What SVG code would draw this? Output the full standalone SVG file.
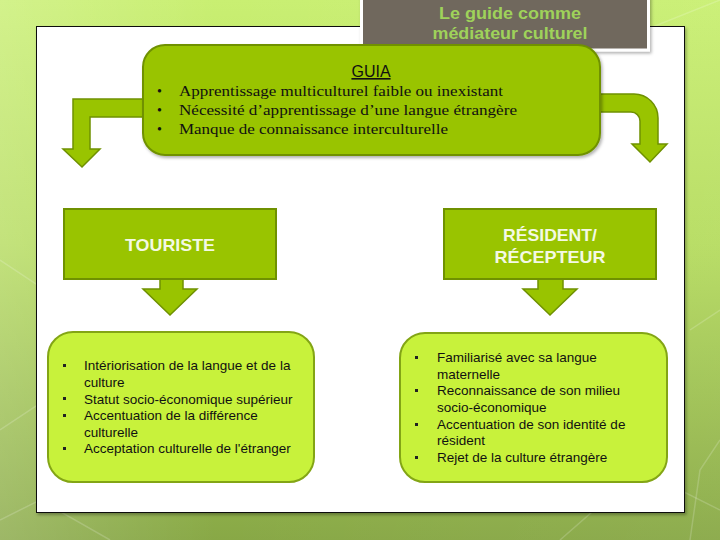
<svg xmlns="http://www.w3.org/2000/svg" width="720" height="540" viewBox="0 0 720 540">
<defs>
<linearGradient id="bg" x1="0" y1="0" x2="0" y2="1">
<stop offset="0" stop-color="#c9ef72"/>
<stop offset="0.45" stop-color="#b6dc60"/>
<stop offset="1" stop-color="#88a846"/>
</linearGradient>
<linearGradient id="bgside" x1="0" y1="0" x2="1" y2="0">
<stop offset="0" stop-color="#ffffff" stop-opacity="0.18"/>
<stop offset="0.3" stop-color="#ffffff" stop-opacity="0"/>
<stop offset="1" stop-color="#ffffff" stop-opacity="0.05"/>
</linearGradient>
<filter id="sh" x="-5%" y="-5%" width="115%" height="120%">
<feDropShadow dx="1.5" dy="2" stdDeviation="1.5" flood-color="#000" flood-opacity="0.3"/>
</filter>
</defs>
<style>
.green{fill:#99c400;stroke:#6f9100;stroke-width:2}
.lime{fill:#c8f23b;stroke:#83a515;stroke-width:2}
.arrow{fill:#99c400;stroke:#6f9100;stroke-width:1.5;stroke-linejoin:miter}
.head{font-family:"Liberation Sans",Arial,sans-serif;font-weight:bold;font-size:17px;fill:#f4f9e4;text-anchor:middle}
.serif{font-family:"Liberation Serif","Times New Roman",serif;font-size:14px;fill:#111}
.item{font-family:"Liberation Sans",Arial,sans-serif;font-size:13.5px;fill:#111}
.title{font-family:"Liberation Sans",Arial,sans-serif;font-weight:bold;font-size:17px;fill:#9fd25a;text-anchor:middle}
</style>
<rect x="0" y="0" width="720" height="540" fill="url(#bg)"/>
<rect x="0" y="0" width="720" height="540" fill="url(#bgside)"/>
<g stroke="#ffffff" stroke-opacity="0.18" stroke-width="1.5" fill="none">
<path d="M0 430 L60 390 L60 300 L0 260"/>
<path d="M0 520 L40 500 L110 540"/>
<path d="M560 540 L640 470 L720 510"/>
<path d="M690 540 L700 470 L720 440"/>
<path d="M620 40 L720 0"/>
<path d="M690 330 L720 310"/>
</g>
<rect x="36.5" y="26.5" width="648" height="486" fill="#ffffff" stroke="#111" stroke-width="1" filter="url(#sh)"/>
<g id="title">
<rect x="361.5" y="-3" width="287" height="53" fill="#6f675d" stroke="#ffffff" stroke-width="3" filter="url(#sh)"/>
<text class="title" x="510" y="19" textLength="142" lengthAdjust="spacingAndGlyphs">Le guide comme</text>
<text class="title" x="510" y="39" textLength="155" lengthAdjust="spacingAndGlyphs">médiateur culturel</text>
</g>
<g id="connectors">
<path class="arrow" d="M144 99 L73 99 L73 149 L63 149 L82 167 L100 149 L90 149 L90 117 L144 117 Z"/>
<path class="arrow" d="M598 94 L634 94 A24 24 0 0 1 658 118 L658 144 L667 144 L650 162 L632 144 L640 144 L640 121 A9 9 0 0 0 631 112 L598 112 Z"/>
<path class="arrow" d="M160 279 L160 289 L143 289 L170 315 L197 289 L183 289 L183 279 Z"/>
<path class="arrow" d="M538 279 L538 289 L523 289 L550 315 L577 289 L563 289 L563 279 Z"/>
</g>
<g id="guia">
<rect class="green" x="143" y="45" width="457" height="110" rx="22" ry="22" filter="url(#sh)"/>
<text x="371" y="77" font-family="Liberation Sans,Arial,sans-serif" font-size="16" fill="#111" text-anchor="middle" text-decoration="underline">GUIA</text>
<text class="serif" x="157" y="96">•</text>
<text class="serif" x="157" y="115">•</text>
<text class="serif" x="157" y="134">•</text>
<text class="serif" x="179" y="96" textLength="324" lengthAdjust="spacingAndGlyphs">Apprentissage multiculturel faible ou inexistant</text>
<text class="serif" x="179" y="115" textLength="338" lengthAdjust="spacingAndGlyphs">Nécessité d’apprentissage d’une langue étrangère</text>
<text class="serif" x="179" y="134" textLength="269" lengthAdjust="spacingAndGlyphs">Manque de connaissance interculturelle</text>
</g>
<g id="touriste">
<rect class="green" x="64" y="209" width="212" height="70"/>
<text class="head" x="170" y="251" textLength="90" lengthAdjust="spacingAndGlyphs">TOURISTE</text>
</g>
<g id="resident">
<rect class="green" x="444" y="209" width="212" height="70"/>
<text class="head" x="550" y="241" textLength="94" lengthAdjust="spacingAndGlyphs">RÉSIDENT/</text>
<text class="head" x="550" y="263" textLength="111" lengthAdjust="spacingAndGlyphs">RÉCEPTEUR</text>
</g>
<g id="touriste-traits">
<rect class="lime" x="48" y="332" width="266" height="150" rx="25" ry="25"/>
<g fill="#222">
<rect x="63" y="364" width="3" height="3"/>
<rect x="63" y="397" width="3" height="3"/>
<rect x="63" y="414" width="3" height="3"/>
<rect x="63" y="447" width="3" height="3"/>
</g>
<text class="item" x="84" y="370">Intériorisation de la langue et de la</text>
<text class="item" x="84" y="387">culture</text>
<text class="item" x="84" y="403.5">Statut socio-économique supérieur</text>
<text class="item" x="84" y="420">Accentuation de la différence</text>
<text class="item" x="84" y="436.5">culturelle</text>
<text class="item" x="84" y="453">Acceptation culturelle de l'étranger</text>
</g>
<g id="resident-traits">
<rect class="lime" x="400" y="333" width="267" height="149" rx="25" ry="25"/>
<g fill="#222">
<rect x="415" y="356" width="3" height="3"/>
<rect x="415" y="389" width="3" height="3"/>
<rect x="415" y="423" width="3" height="3"/>
<rect x="415" y="456" width="3" height="3"/>
</g>
<text class="item" x="437" y="362">Familiarisé avec sa langue</text>
<text class="item" x="437" y="378.5">maternelle</text>
<text class="item" x="437" y="395">Reconnaissance de son milieu</text>
<text class="item" x="437" y="411.5">socio-économique</text>
<text class="item" x="437" y="428.5">Accentuation de son identité de</text>
<text class="item" x="437" y="445">résident</text>
<text class="item" x="437" y="462">Rejet de la culture étrangère</text>
</g>
</svg>
